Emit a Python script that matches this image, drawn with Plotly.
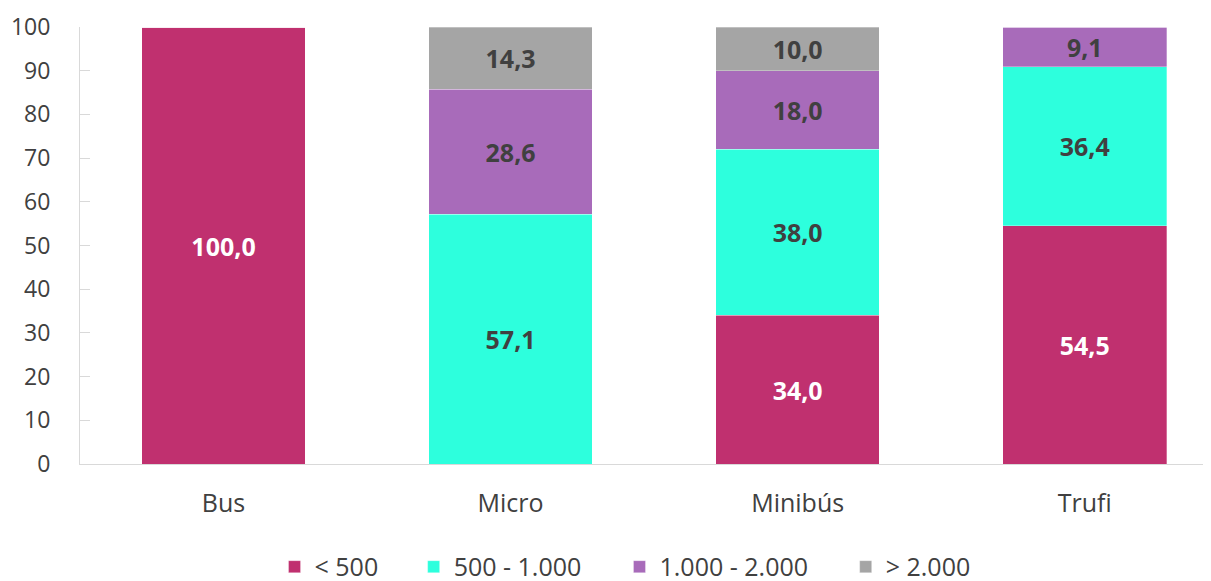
import plotly.graph_objects as go

categorias = ["Bus", "Micro", "Minibús", "Trufi"]
menos_500 = [100.0, 0, 34.0, 54.5]
de_500_1000 = [0, 57.1, 38.0, 36.4]
de_1000_2000 = [0, 28.6, 18.0, 9.1]
mas_2000 = [0, 14.3, 10.0, 0]

series = [
    ("< 500", menos_500, "#C0306F", "white"),
    ("500 - 1.000", de_500_1000, "#2DFFDD", "#404040"),
    ("1.000 - 2.000", de_1000_2000, "#A86BBA", "#404040"),
    ("> 2.000", mas_2000, "#A5A5A5", "#404040"),
]
# borde izquierdo de cada leyenda, en fracción del área de trazado
leyenda_x = [0.172, 0.295, 0.477, 0.677]

def etiqueta(v):
    return "<b>" + ("%.1f" % v).replace(".", ",") + "</b>" if v else ""

fig = go.Figure()
layout_leyendas = {}
for i, (nombre, valores, color, color_txt) in enumerate(series):
    ley = "legend" if i == 0 else "legend%d" % (i + 1)
    fig.add_trace(go.Bar(
        x=categorias, y=valores, name=nombre, legend=ley,
        marker=dict(color=color, line=dict(color="rgba(255,255,255,0.6)", width=0.5)),
        text=[etiqueta(v) for v in valores], texttemplate="%{text}",
        textposition="inside", insidetextanchor="middle",
        textfont=dict(color=color_txt, size=25, family="Open Sans"),
        textangle=0, width=0.57,
    ))
    layout_leyendas[ley] = dict(orientation="h", x=leyenda_x[i], xanchor="left",
                                y=0.038, yref="container", yanchor="middle",
                                font=dict(size=25), bgcolor="rgba(0,0,0,0)")

fig.update_layout(
    barmode="stack", width=1211, height=581,
    paper_bgcolor="white", plot_bgcolor="white",
    margin=dict(l=72, r=8, t=19, b=125),
    font=dict(family="Open Sans", size=23, color="#404040"),
    showlegend=True,
    **layout_leyendas,
)
fig.update_xaxes(range=[-0.5, 3.44], showline=True, linecolor="#d9d9d9", linewidth=1,
                 ticks="", tickfont=dict(size=25), ticklabelstandoff=17, automargin=False)
fig.update_yaxes(range=[0, 100], dtick=10, showgrid=False, showline=True,
                 linecolor="#d9d9d9", linewidth=1, ticks="inside", ticklen=10,
                 tickcolor="#d9d9d9", tickfont=dict(size=23), ticklabelstandoff=24,
                 zeroline=False, automargin=False)

fig.write_html("out.html")
